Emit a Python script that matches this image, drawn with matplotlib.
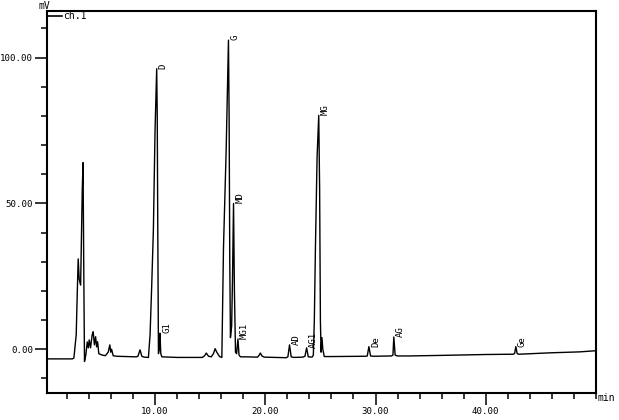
import matplotlib
matplotlib.use("Agg")
import matplotlib.pyplot as plt
from matplotlib.ticker import MultipleLocator, FormatStrFormatter

# detector trace (min, mV)
trace_t = [0.2, 2.5, 2.64, 2.85, 2.95, 3.03, 3.12, 3.25, 3.40, 3.47, 3.53, 3.60,
           3.72, 3.85, 3.95, 4.03, 4.15, 4.30, 4.39, 4.50, 4.61, 4.70, 4.79, 4.90,
           5.2, 5.5, 5.75, 5.90, 5.98, 6.06, 6.2, 6.5, 8.3, 8.45, 8.64, 8.8, 9.0,
           9.40, 9.55, 9.70, 9.85, 10.00, 10.15, 10.20, 10.25, 10.31, 10.38, 10.45,
           10.52, 10.62, 12.0, 14.3, 14.5, 14.65, 14.85, 15.1, 15.3, 15.45, 15.6,
           15.85, 16.06, 16.21, 16.45, 16.66, 16.72, 16.78, 16.84, 16.95, 17.03,
           17.12, 17.20, 17.30, 17.40, 17.52, 17.62, 17.75, 18.2, 19.3, 19.45, 19.55,
           19.7, 19.9, 21.9, 22.05, 22.2, 22.35, 22.6, 23.4, 23.6, 23.75, 23.9,
           24.25, 24.36, 24.45, 24.55, 24.70, 24.85, 24.93, 25.00, 25.06, 25.14,
           25.22, 25.35, 26.0, 29.1, 29.25, 29.4, 29.55, 29.8, 31.45, 31.58, 31.66,
           31.78, 32.0, 33.0, 36.0, 40.0, 42.5, 42.62, 42.73, 42.85, 43.0, 46.0,
           48.5, 50.0]
trace_mv = [-3.3, -3.3, -3.0, 5.0, 20.0, 31.0, 24.0, 22.0, 55.0, 64.0, 30.0, -4.2,
            -2.0, 2.5, 0.5, 3.2, 0.5, 5.0, 6.0, 1.5, 4.3, 0.8, 2.6, -1.5,
            -2.0, -2.2, -1.0, 1.5, -1.0, 0.0, -2.2, -2.4, -2.6, -2.4, -0.2, -2.4, -2.7,
            -2.8, 5.0, 22.0, 41.0, 75.0, 96.2, 80.0, 40.0, -1.5, 0.0, 5.5,
            -1.5, -2.6, -2.8, -2.8, -2.2, -1.3, -2.4, -2.6, -1.5, 0.2, -1.0,
            -2.5, -2.8, 35.0, 68.0, 106.0, 80.0, 30.0, 4.0, 8.0, 25.0,
            50.0, 20.0, -1.0, -1.5, 3.5, -2.0, -2.6, -2.6, -2.7, -2.0, -1.3,
            -2.3, -2.7, -2.9, -2.6, 1.5, -2.6, -2.8, -2.7, -2.4, 0.5, -2.6,
            -2.7, -2.0, 10.0, 35.0, 66.0, 80.2, 55.0, 10.0, -1.0, 4.0,
            0.0, -2.5, -2.5, -2.4, -2.3, 0.9, -2.3, -2.4, -2.3, -2.0, 4.2,
            -2.0, -2.3, -2.3, -2.1, -1.8, -1.7, -1.4, 0.9, -1.5, -1.7, -1.2,
            -0.9, -0.5]

# peak names and apex positions
peak_names = ["D", "G1", "G", "MD", "MG1", "AD", "AG1", "MG", "De", "AG", "Ge"]
peak_t = [10.15, 10.45, 16.66, 17.12, 17.52, 22.2, 23.75, 24.85, 29.4, 31.66, 42.73]
peak_mv = [96.2, 5.5, 106.0, 50.0, 3.5, 1.5, 0.5, 80.2, 0.9, 4.2, 0.9]

x_major = [10, 20, 30, 40]
y_major = [0, 50, 100]

FONT = "DejaVu Sans Mono"

fig = plt.figure(figsize=(6.19, 4.20), dpi=100)
ax = fig.add_axes([47 / 619, 1 - 393 / 420, (596 - 47) / 619, (393 - 11) / 420])

ax.plot(trace_t, trace_mv, color="black", lw=1.0)

for name, t, mv in zip(peak_names, peak_t, peak_mv):
    ax.annotate(name, (t, mv), xytext=(1.5, 0), textcoords="offset points",
                rotation=90, rotation_mode="anchor", ha="left", va="top",
                fontsize=6.5, family=FONT)

ax.set_xlim(0.2, 50.0)
ax.set_ylim(-15, 116)

ax.set_xticks(x_major)
ax.set_yticks(y_major)
ax.xaxis.set_minor_locator(MultipleLocator(2))
ax.yaxis.set_minor_locator(MultipleLocator(10))
ax.xaxis.set_major_formatter(FormatStrFormatter("%.2f"))
ax.yaxis.set_major_formatter(FormatStrFormatter("%.2f"))
# lengths in points: ~12 px major, ~6 px minor
ax.tick_params(which="major", direction="out", length=8.5, width=1.1,
               labelsize=6.6, pad=1.5)
ax.tick_params(which="minor", direction="out", length=4.3, width=1.1)
for lab in ax.get_xticklabels() + ax.get_yticklabels():
    lab.set_family(FONT)

for sp in ax.spines.values():
    sp.set_linewidth(1.5)

# channel key in the top left corner
ax.plot([0, 0.027], [0.987, 0.987], color="black", lw=1.2,
        transform=ax.transAxes, clip_on=False)
ax.text(0.030, 0.987, "ch.1", transform=ax.transAxes, ha="left", va="center",
        fontsize=7, family=FONT)

fig.text(44 / 619, 1 - 6 / 420, "mV", ha="center", va="center",
         fontsize=7, family=FONT)
fig.text(606 / 619, 1 - 398 / 420, "min", ha="center", va="center",
         fontsize=7, family=FONT)

fig.savefig("out.png", dpi=100)
